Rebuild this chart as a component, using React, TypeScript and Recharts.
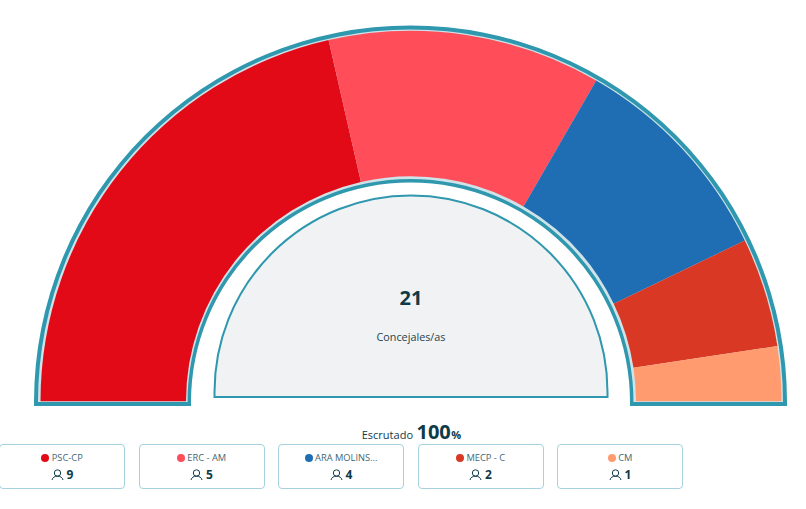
import { PieChart, Pie, Cell, Sector } from 'recharts'

const PARTIES = ['PSC-CP', 'ERC - AM', 'ARA MOLINS...', 'MECP - C', 'CM']
const SEATS = [9, 5, 4, 2, 1]
const COLORS = ['#e20a17', '#ff4d5a', '#1f6eb4', '#d93924', '#ff9b6e']
const TOTAL_LABEL = '21'
const TOTAL_CAPTION = 'Concejales/as'
const SCRUTINY_LABEL = 'Escrutado'
const SCRUTINY_VALUE = '100'

const TEAL = '#2f97ae'
const PALE = '#cfe3e8'
const INK = '#0f3a48'
const CX = 410.5
const CY = 402

const seatData = PARTIES.map((name, i) => ({ name, value: SEATS[i] }))
const whole = [{ name: 'total', value: 1 }]

// arc band with short square feet under both ends, same as the frame in the original
function FootedBand(props: any) {
  const { cx, cy, innerRadius, outerRadius, startAngle, endAngle, fill, foot } = props
  const w = outerRadius - innerRadius
  return (
    <g>
      <Sector cx={cx} cy={cy} innerRadius={innerRadius} outerRadius={outerRadius} startAngle={startAngle} endAngle={endAngle} fill={fill} stroke="none" />
      <rect x={cx - outerRadius} y={cy - 0.5} width={w} height={foot + 0.5} fill={fill} />
      <rect x={cx + innerRadius} y={cy - 0.5} width={w} height={foot + 0.5} fill={fill} />
    </g>
  )
}

// closed half disc that runs straight down a few px below its centre
function Dome(props: any) {
  const { cx, cy, outerRadius: r, fill } = props
  const d = `M ${cx - r} ${cy + 5} L ${cx - r} ${cy} A ${r} ${r} 0 0 1 ${cx + r} ${cy} L ${cx + r} ${cy + 5} Z`
  return <path d={d} fill={fill} stroke={TEAL} strokeWidth={2} />
}

function PersonIcon() {
  return (
    <svg width={13} height={12} viewBox="0 0 13 12" style={{ display: 'block' }}>
      <circle cx={6.5} cy={4} r={3.2} fill="none" stroke={INK} strokeWidth={1} />
      <path d="M1 11 C1.6 8.4 3.6 7.2 6.5 7.2 C9.4 7.2 11.4 8.4 12 11" fill="none" stroke={INK} strokeWidth={1} />
    </svg>
  )
}

const font = '"Open Sans", sans-serif'

export default function App() {
  return (
    <div style={{ position: 'absolute', left: 0, top: 0, width: 806, height: 509, fontFamily: font, overflow: 'hidden', background: '#fff' }}>
      <PieChart width={806} height={509} margin={{ top: 0, right: 0, bottom: 0, left: 0 }}>
        <Pie data={whole} dataKey="value" cx={CX} cy={CY} startAngle={180} endAngle={0} innerRadius={219.5} outerRadius={376.5} fill={TEAL} stroke="none" shape={(p: any) => <FootedBand {...p} foot={4} />} isAnimationActive={false} />
        <Pie data={whole} dataKey="value" cx={CX} cy={CY} startAngle={180} endAngle={0} innerRadius={223} outerRadius={372.5} fill={PALE} stroke="none" shape={(p: any) => <FootedBand {...p} foot={0} />} isAnimationActive={false} />
        <Pie data={seatData} dataKey="value" cx={CX + 0.5} cy={CY - 0.7} startAngle={180} endAngle={0} innerRadius={225} outerRadius={370.5} stroke="none" paddingAngle={0} isAnimationActive={false}>
          {seatData.map((d, i) => <Cell key={d.name} fill={COLORS[i]} stroke="none" />)}
        </Pie>
        <Pie data={whole} dataKey="value" cx={CX + 0.5} cy={392} startAngle={180} endAngle={0} innerRadius={0} outerRadius={196.5} fill="#f0f2f4" stroke="none" shape={Dome} isAnimationActive={false} />
      </PieChart>

      <div style={{ position: 'absolute', left: 311, width: 200, top: 284, textAlign: 'center', fontSize: 20, fontWeight: 700, lineHeight: '28px', color: INK }}>{TOTAL_LABEL}</div>
      <div style={{ position: 'absolute', left: 310, width: 202, top: 329, textAlign: 'center', fontSize: 10.8, lineHeight: '16px', color: '#26424c' }}>{TOTAL_CAPTION}</div>

      <div style={{ position: 'absolute', left: 261.5, width: 300, top: 418, height: 28, display: 'flex', justifyContent: 'center', alignItems: 'baseline', color: INK, lineHeight: '28px' }}>
        <span style={{ fontSize: 11, marginRight: 3.5 }}>{SCRUTINY_LABEL}</span>
        <span style={{ fontSize: 20, fontWeight: 700 }}>{SCRUTINY_VALUE}</span>
        <span style={{ fontSize: 11, fontWeight: 700, marginLeft: 0.5 }}>%</span>
      </div>

      {PARTIES.map((name, i) => (
        <div key={name} style={{ position: 'absolute', left: -1 + i * 139.5, top: 444, width: 124, height: 43, border: '1px solid #a5d2dd', borderRadius: 4, background: '#fff' }}>
          <div style={{ position: 'absolute', left: 0, right: 0, top: 6, display: 'flex', justifyContent: 'center', alignItems: 'center', fontSize: 9.3, lineHeight: '14px', color: '#3f6675' }}>
            <span style={{ width: 8, height: 8, borderRadius: 4, background: COLORS[i], marginRight: 2.5 }} />
            {name}
          </div>
          <div style={{ position: 'absolute', left: 0, right: 0, top: 22, display: 'flex', justifyContent: 'center', alignItems: 'center', fontSize: 12, fontWeight: 700, lineHeight: '16px', color: INK }}>
            <PersonIcon />
            <span style={{ marginLeft: 3 }}>{SEATS[i]}</span>
          </div>
        </div>
      ))}
    </div>
  )
}
